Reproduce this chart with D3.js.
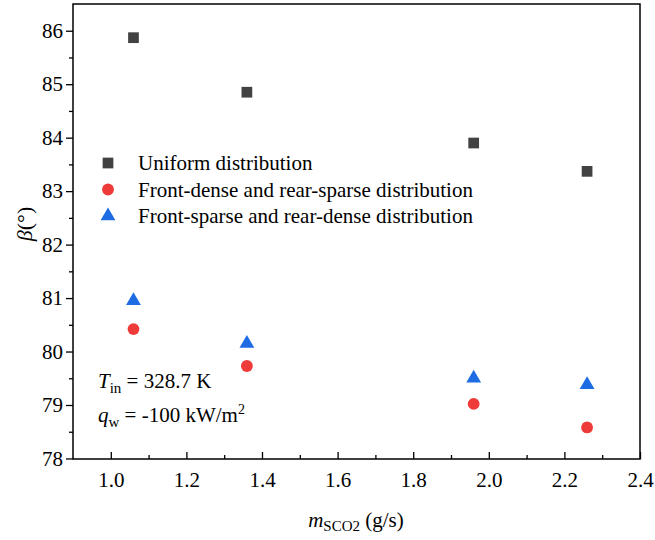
<!DOCTYPE html>
<html>
<head>
<meta charset="utf-8">
<script src="https://cdn.jsdelivr.net/npm/d3@7"></script>
<style>
  body { margin: 0; background: #fff; }
  svg text { font-family: "Liberation Serif", "Times New Roman", Tinos, serif !important; fill: #000; }
</style>
</head>
<body>
<svg class="chart"></svg>
<script>
(function () {
    const massFlow = [1.06, 1.36, 1.96, 2.26];
    const uniform = [85.87, 84.85, 83.9, 83.37];
    const frontDense = [80.42, 79.73, 79.02, 78.58];
    const frontSparse = [80.95, 80.15, 79.5, 79.38];
    const xTicks = [1.0, 1.2, 1.4, 1.6, 1.8, 2.0, 2.2, 2.4];
    const yTicks = [78, 79, 80, 81, 82, 83, 84, 85, 86];
    const seriesNames = ["Uniform distribution", "Front-dense and rear-sparse distribution", "Front-sparse and rear-dense distribution"];

    const width = 655, height = 540;
    const margin = { left: 73, top: 4, right: 15, bottom: 81 };

    let svg = d3.select("svg.chart")
        .attr("width", width)
        .attr("height", height);

    let x = d3.scaleLinear().domain([0.9, 2.4]).range([margin.left, width - margin.right]);
    let y = d3.scaleLinear().domain([77.99, 86.5]).range([height - margin.bottom, margin.top]);
    const plotBottom = height - margin.bottom;

    // frame
    svg.append("rect")
        .attr("x", margin.left).attr("y", margin.top)
        .attr("width", width - margin.left - margin.right)
        .attr("height", plotBottom - margin.top)
        .attr("fill", "none").attr("stroke", "#000").attr("stroke-width", 1.5);

    // x axis (ticks inward)
    svg.append("g").attr("transform", "translate(0," + plotBottom + ")")
        .call(d3.axisBottom(x).tickValues(xTicks).tickSize(-7).tickPadding(13).tickFormat(d3.format(".1f")));
    svg.append("g").attr("transform", "translate(0," + plotBottom + ")")
        .call(d3.axisBottom(x).tickValues(d3.range(1.1, 2.4, 0.2)).tickSize(-4).tickFormat(""));

    // y axis (ticks outward)
    svg.append("g").attr("transform", "translate(" + margin.left + ",0)")
        .call(d3.axisLeft(y).tickValues(yTicks).tickSize(7).tickPadding(3).tickFormat(d3.format("d")));
    svg.append("g").attr("transform", "translate(" + margin.left + ",0)")
        .call(d3.axisLeft(y).tickValues(d3.range(78.5, 86.5, 1)).tickSize(4).tickFormat(""));

    svg.selectAll(".domain").remove();
    svg.selectAll("g").attr("font-family", null);
    svg.selectAll(".tick line").attr("stroke", "#000").attr("stroke-width", 1.3);
    svg.selectAll(".tick text").style("font-size", "21px");

    // axis titles
    let xt = svg.append("text")
        .attr("x", 356).attr("y", 527)
        .attr("text-anchor", "middle").style("font-size", "21px");
    xt.append("tspan").attr("font-style", "italic").text("m");
    xt.append("tspan").attr("dy", 4).style("font-size", "15px").text("SCO2");
    xt.append("tspan").attr("dy", -4).text(" (g/s)");

    let yt = svg.append("text")
        .attr("transform", "translate(32,224) rotate(-90)")
        .attr("text-anchor", "middle").style("font-size", "22px");
    yt.append("tspan").attr("font-style", "italic").text("β");
    yt.append("tspan").text("(°)");

    // annotations
    let t1 = svg.append("text").attr("x", 98).attr("y", 388).style("font-size", "21px");
    t1.append("tspan").attr("font-style", "italic").text("T");
    t1.append("tspan").attr("dy", 5).style("font-size", "15px").text("in");
    t1.append("tspan").attr("dy", -5).text(" = 328.7 K");

    let t2 = svg.append("text").attr("x", 98).attr("y", 422).style("font-size", "21px");
    t2.append("tspan").attr("font-style", "italic").text("q");
    t2.append("tspan").attr("dy", 5).style("font-size", "15px").text("w");
    t2.append("tspan").attr("dy", -5).text(" = -100 kW/m");
    t2.append("tspan").attr("dy", -8).style("font-size", "14px").text("2");

    const colours = ["#424242", "#ef3a3a", "#1d6ce3"];
    const symbols = [d3.symbolSquare, d3.symbolCircle, d3.symbolTriangle];
    const sizes = [115, 110, 95];
    const allSeries = [uniform, frontDense, frontSparse];

    allSeries.forEach(function (vals, s) {
        svg.append("g").selectAll("path")
            .data(vals)
            .enter().append("path")
            .attr("transform", function (d, i) { return "translate(" + x(massFlow[i]) + "," + y(d) + ")"; })
            .attr("d", d3.symbol().type(symbols[s]).size(sizes[s]))
            .attr("fill", colours[s]);
    });

    // legend
    let legend = svg.append("g").attr("class", "legend").attr("transform", "translate(108,163)");
    seriesNames.forEach(function (name, i) {
        legend.append("path")
            .attr("transform", "translate(0," + (i * 26.5) + ")")
            .attr("d", d3.symbol().type(symbols[i]).size(sizes[i]))
            .attr("fill", colours[i]);
        legend.append("text")
            .attr("x", 30).attr("y", i * 26.5 + 7)
            .style("font-size", "21px")
            .text(name);
    });
}());
</script>
</body>
</html>
